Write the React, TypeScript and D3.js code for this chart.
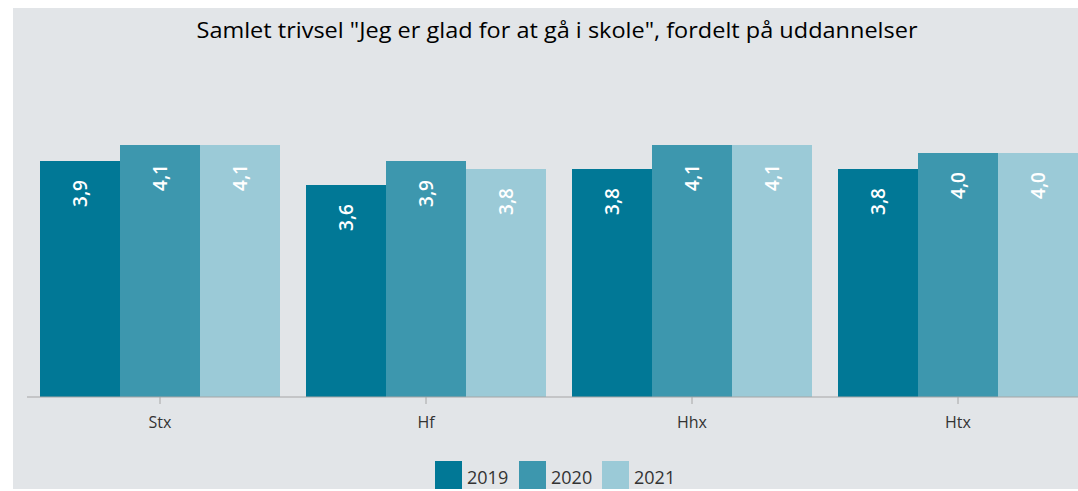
import React, { useEffect, useRef } from "react";
import * as d3 from "d3";

const categories = ["Stx", "Hf", "Hhx", "Htx"];
const years = ["2019", "2020", "2021"];
const values2019 = [3.9, 3.6, 3.8, 3.8];
const values2020 = [4.1, 3.9, 4.1, 4.0];
const values2021 = [4.1, 3.8, 4.1, 4.0];
const yearColors = ["#017896", "#3d97ae", "#9bcad7"];
const title = 'Samlet trivsel "Jeg er glad for at gå i skole", fordelt på uddannelser';

const W = 1078;
const H = 491;

const App = () => {
  const ref = useRef<SVGSVGElement>(null);

  useEffect(() => {
    const svg = d3.select(ref.current);
    svg.selectAll("*").remove();

    const font = "Open Sans, sans-serif";
    const series = [values2019, values2020, values2021];
    const baseline = 397;

    // panel background
    svg.append("rect").attr("x", 13).attr("y", 8).attr("width", W - 13).attr("height", 481).attr("fill", "#e2e5e8");

    svg
      .append("text")
      .attr("x", 557)
      .attr("y", 38)
      .attr("text-anchor", "middle")
      .attr("font-family", font)
      .attr("font-size", 22)
      .attr("textLength", 721)
      .attr("lengthAdjust", "spacingAndGlyphs")
      .attr("fill", "#000")
      .text(title);

    const x = d3.scaleBand().domain(categories).range([27, 27 + 4 * 266]).paddingInner(0).paddingOuter(0);
    const inner = d3.scaleBand().domain(years).range([13, 253]);
    // value axis does not start at zero in the original
    const y = d3.scaleLinear().domain([0.95, 5]).range([baseline, baseline - 4.05 * 80]);

    const g = svg.append("g");
    categories.forEach((cat, ci) => {
      years.forEach((yr, yi) => {
        const v = series[yi][ci];
        const bx = x(cat)! + inner(yr)!;
        const bw = inner.bandwidth();
        g.append("rect")
          .attr("x", bx)
          .attr("y", y(v))
          .attr("width", bw)
          .attr("height", baseline - y(v))
          .attr("fill", yearColors[yi]);
        g.append("text")
          .attr("transform", `translate(${bx + bw / 2},${y(v) + 19}) rotate(-90)`)
          .attr("text-anchor", "end")
          .attr("dominant-baseline", "central")
          .attr("font-family", font)
          .attr("font-size", 19)
          .attr("font-weight", 600)
          .attr("fill", "#fff")
          .text(d3.format(".1f")(v).replace(".", ","));
      });
    });

    // category axis
    svg.append("line").attr("x1", 27).attr("x2", W).attr("y1", baseline).attr("y2", baseline).attr("stroke", "#a6a6a6").attr("stroke-width", 1.2);
    categories.forEach((cat) => {
      const cx = x(cat)! + x.bandwidth() / 2;
      svg.append("line").attr("x1", cx).attr("x2", cx).attr("y1", baseline).attr("y2", baseline + 7).attr("stroke", "#a6a6a6");
      svg
        .append("text")
        .attr("x", cx)
        .attr("y", 428)
        .attr("text-anchor", "middle")
        .attr("font-family", font)
        .attr("font-size", 16)
        .attr("fill", "#333")
        .text(cat);
    });

    // legend
    const legendX = [435, 519, 602];
    years.forEach((yr, i) => {
      svg.append("rect").attr("x", legendX[i]).attr("y", 461).attr("width", 27).attr("height", 28).attr("fill", yearColors[i]);
      svg
        .append("text")
        .attr("x", legendX[i] + 32)
        .attr("y", 484)
        .attr("font-family", font)
        .attr("font-size", 18)
        .attr("fill", "#333")
        .text(yr);
    });
  }, []);

  return (
    <svg
      ref={ref}
      width={W}
      height={H}
      style={{ position: "absolute", left: 0, top: 0, background: "#fff" }}
    />
  );
};

export default App;
